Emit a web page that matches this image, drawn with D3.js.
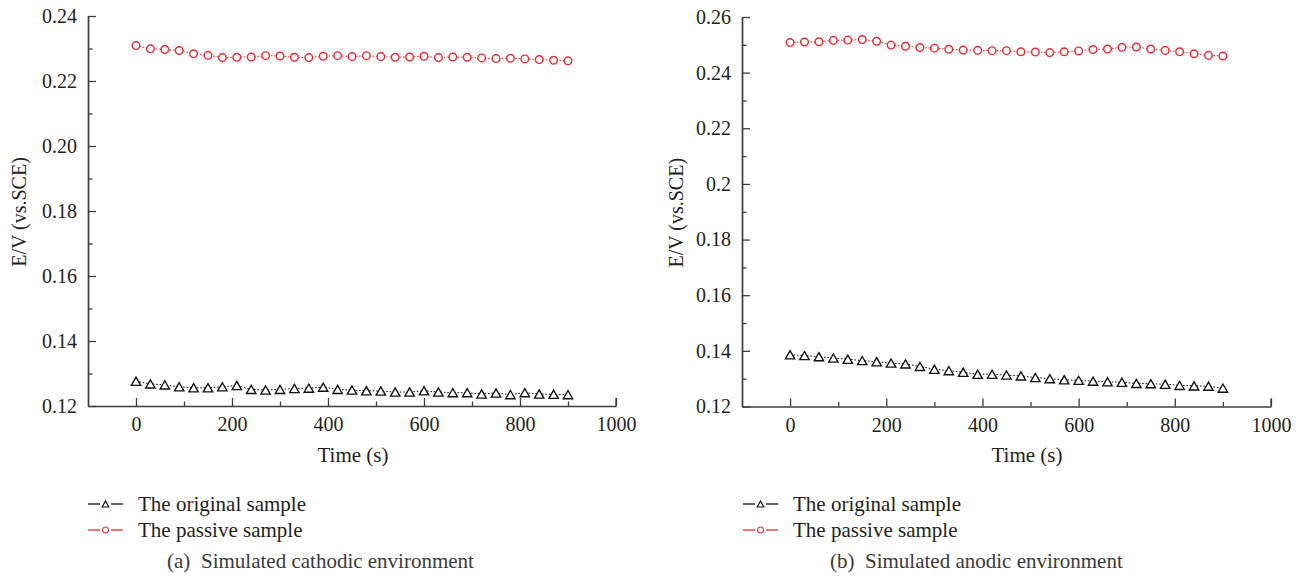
<!DOCTYPE html>
<html>
<head>
<meta charset="utf-8">
<script src="https://cdn.jsdelivr.net/npm/d3@7"></script>
<style>
  html, body { margin: 0; padding: 0; background: #fff; }
  svg { display: block; }
  text { font-family: "Liberation Serif", "Times New Roman", serif; fill: #231f20; }
</style>
</head>
<body>
<svg id="chart" width="1302" height="583"></svg>
<script>
// Open-circuit potential of the samples over 900 s of immersion
const timeS = [0, 30, 60, 90, 120, 150, 180, 210, 240, 270, 300, 330, 360, 390, 420, 450,
  480, 510, 540, 570, 600, 630, 660, 690, 720, 750, 780, 810, 840, 870, 900];

// (a) simulated cathodic environment, E/V vs. SCE
const cathodicOriginal = [0.1276, 0.1268, 0.1265, 0.1259, 0.1256, 0.1256, 0.1259, 0.1263, 0.1251, 0.1249,
  0.1251, 0.1254, 0.1255, 0.1258, 0.1251, 0.1249, 0.1247, 0.1246, 0.1243, 0.1243, 0.1247, 0.1243,
  0.1241, 0.1241, 0.1237, 0.1240, 0.1235, 0.1241, 0.1237, 0.1236, 0.1235];
const cathodicPassive = [0.2309, 0.2299, 0.2297, 0.2294, 0.2284, 0.2279, 0.2272, 0.2273, 0.2274, 0.2278,
  0.2277, 0.2273, 0.2272, 0.2276, 0.2278, 0.2275, 0.2278, 0.2275, 0.2273, 0.2274, 0.2276, 0.2272,
  0.2274, 0.2273, 0.2271, 0.2269, 0.2270, 0.2268, 0.2266, 0.2264, 0.2262];

// (b) simulated anodic environment, E/V vs. SCE
const anodicOriginal = [0.1386, 0.1383, 0.1379, 0.1374, 0.1370, 0.1365, 0.1361, 0.1356, 0.1353, 0.1344,
  0.1334, 0.1329, 0.1323, 0.1316, 0.1316, 0.1313, 0.1310, 0.1304, 0.1300, 0.1296, 0.1294, 0.1291,
  0.1289, 0.1287, 0.1283, 0.1282, 0.1280, 0.1276, 0.1274, 0.1273, 0.1266];
const anodicPassive = [0.2508, 0.2510, 0.2511, 0.2516, 0.2517, 0.2519, 0.2513, 0.2499, 0.2495, 0.2490,
  0.2488, 0.2484, 0.2481, 0.2480, 0.2479, 0.2479, 0.2475, 0.2474, 0.2472, 0.2475, 0.2478, 0.2483,
  0.2485, 0.2491, 0.2492, 0.2485, 0.2480, 0.2475, 0.2468, 0.2462, 0.2460];

// Axis ticks and labels
const timeTicks = [0, 200, 400, 600, 800, 1000];
const timeTickLabels = ["0", "200", "400", "600", "800", "1000"];
const timeMinorTicks = [100, 300, 500, 700, 900];
const cathodicTicks = [0.12, 0.14, 0.16, 0.18, 0.20, 0.22, 0.24];
const cathodicTickLabels = ["0.12", "0.14", "0.16", "0.18", "0.20", "0.22", "0.24"];
const cathodicMinorTicks = [0.13, 0.15, 0.17, 0.19, 0.21, 0.23];
const anodicTicks = [0.12, 0.14, 0.16, 0.18, 0.20, 0.22, 0.24, 0.26];
const anodicTickLabels = ["0.12", "0.14", "0.16", "0.18", "0.2", "0.22", "0.24", "0.26"];
const anodicMinorTicks = [0.13, 0.15, 0.17, 0.19, 0.21, 0.23, 0.25];

const seriesNames = ["The original sample", "The passive sample"];
const xTitle = "Time (s)";
const yTitle = "E/V (vs.SCE)";

const RED = "#ee2a2f";
const BLACK = "#111";
const AXIS = "#3d3d3d";
const SERIF = '"Liberation Serif", "Times New Roman", serif';

const svg = d3.select("#chart");

const triPath = (hw, h) => `M0,${-h}L${hw},${h}L${-hw},${h}Z`;

function drawPanel(p) {
  const x = d3.scaleLinear().domain([-100, 1000]).range([p.left, p.right]);
  const y = d3.scaleLinear().domain(p.yDomain).range([p.bottom, p.top]);
  const g = svg.append("g");

  // minor ticks (inward, unlabeled)
  g.append("g").attr("transform", `translate(0,${p.bottom})`)
    .call(d3.axisBottom(x).tickValues(timeMinorTicks).tickSize(-4.5).tickSizeOuter(0).tickFormat(""))
    .call(a => a.select(".domain").remove());
  g.append("g").attr("transform", `translate(${p.left},0)`)
    .call(d3.axisLeft(y).tickValues(p.yMinor).tickSize(-4.5).tickSizeOuter(0).tickFormat(""))
    .call(a => a.select(".domain").remove());

  // major axes
  g.append("g").attr("transform", `translate(0,${p.bottom})`)
    .call(d3.axisBottom(x).tickValues(timeTicks).tickSize(-8).tickSizeOuter(0).tickPadding(11)
      .tickFormat((d, i) => timeTickLabels[i]))
    .attr("font-family", SERIF);
  g.append("g").attr("transform", `translate(${p.left},0)`)
    .call(d3.axisLeft(y).tickValues(p.yTicks).tickSize(-8).tickSizeOuter(0).tickPadding(11)
      .tickFormat((d, i) => p.yLabels[i]))
    .attr("font-family", SERIF);

  // right-end tick of the time axis
  g.append("line").attr("x1", x(1000)).attr("x2", x(1000))
    .attr("y1", p.bottom).attr("y2", p.bottom - 8);

  g.selectAll(".tick line, line").attr("stroke", AXIS).attr("stroke-width", 1.3);
  g.selectAll(".domain").attr("stroke", AXIS).attr("stroke-width", 1.7);
  g.selectAll(".tick text").attr("font-size", 20).attr("fill", "#231f20")
    .attr("font-family", SERIF);

  // axis titles
  g.append("text").attr("x", p.xTitleX).attr("y", 462).attr("text-anchor", "middle")
    .attr("font-size", 21).text(xTitle);
  g.append("text").attr("transform", `translate(${p.yTitleX},${(p.top + p.bottom) / 2 + 1}) rotate(-90)`)
    .attr("text-anchor", "middle").attr("font-size", 20).text(yTitle);

  // series
  const series = [
    { values: p.original, color: BLACK, shape: "tri" },
    { values: p.passive, color: RED, shape: "circle" }
  ];
  series.forEach(s => {
    const pts = timeS.map((t, i) => [t, s.values[i]]);
    g.append("path").datum(pts)
      .attr("d", d3.line().x(d => x(d[0])).y(d => y(d[1])))
      .attr("fill", "none").attr("stroke", s.color).attr("stroke-width", 1)
      .attr("stroke-dasharray", "1.6,1.8");
    const m = g.append("g").selectAll("g").data(pts).join("g")
      .attr("transform", d => `translate(${x(d[0])},${y(d[1])})`);
    if (s.shape === "tri") {
      m.append("path").attr("d", triPath(4.7, 4.1))
        .attr("fill", "#fff").attr("stroke", s.color).attr("stroke-width", 1.35);
    } else {
      m.append("circle").attr("r", 3.8)
        .attr("fill", "#fff").attr("stroke", s.color).attr("stroke-width", 1.45);
    }
  });

  // legend
  const rows = [
    { name: seriesNames[0], color: BLACK, shape: "tri", cy: 504, base: 511 },
    { name: seriesNames[1], color: RED, shape: "circle", cy: 530, base: 537 }
  ];
  rows.forEach(r => {
    const lx = p.legendX;
    g.append("line").attr("x1", lx).attr("x2", lx + 12).attr("y1", r.cy).attr("y2", r.cy)
      .attr("stroke", r.color).attr("stroke-width", 1.3);
    g.append("line").attr("x1", lx + 23).attr("x2", lx + 35).attr("y1", r.cy).attr("y2", r.cy)
      .attr("stroke", r.color).attr("stroke-width", 1.3);
    const mk = g.append("g").attr("transform", `translate(${lx + 17.5},${r.cy})`);
    if (r.shape === "tri") {
      mk.append("path").attr("d", triPath(3.3, 3)).attr("fill", "#fff")
        .attr("stroke", r.color).attr("stroke-width", 1.2);
    } else {
      mk.append("circle").attr("r", 3).attr("fill", "#fff")
        .attr("stroke", r.color).attr("stroke-width", 1.2);
    }
    g.append("text").attr("x", lx + 50).attr("y", r.base).attr("font-size", 21).text(r.name);
  });

  // caption
  g.append("text").attr("x", p.capX).attr("y", 568).attr("font-size", 21)
    .style("fill", "#3a3a3a").text(p.capTag);
  g.append("text").attr("x", p.capTextX).attr("y", 568).attr("font-size", 21)
    .style("fill", "#3a3a3a").text(p.caption);
}

drawPanel({
  left: 88, right: 616, top: 16, bottom: 406,
  yDomain: [0.12, 0.24], yTicks: cathodicTicks, yLabels: cathodicTickLabels, yMinor: cathodicMinorTicks,
  original: cathodicOriginal, passive: cathodicPassive,
  xTitleX: 353, yTitleX: 26,
  legendX: 88, capX: 167, capTextX: 201,
  capTag: "(a)", caption: "Simulated cathodic environment"
});

drawPanel({
  left: 742, right: 1271, top: 17, bottom: 406.5,
  yDomain: [0.12, 0.26], yTicks: anodicTicks, yLabels: anodicTickLabels, yMinor: anodicMinorTicks,
  original: anodicOriginal, passive: anodicPassive,
  xTitleX: 1027, yTitleX: 683,
  legendX: 743, capX: 830, capTextX: 865,
  capTag: "(b)", caption: "Simulated anodic environment"
});
</script>
</body>
</html>
